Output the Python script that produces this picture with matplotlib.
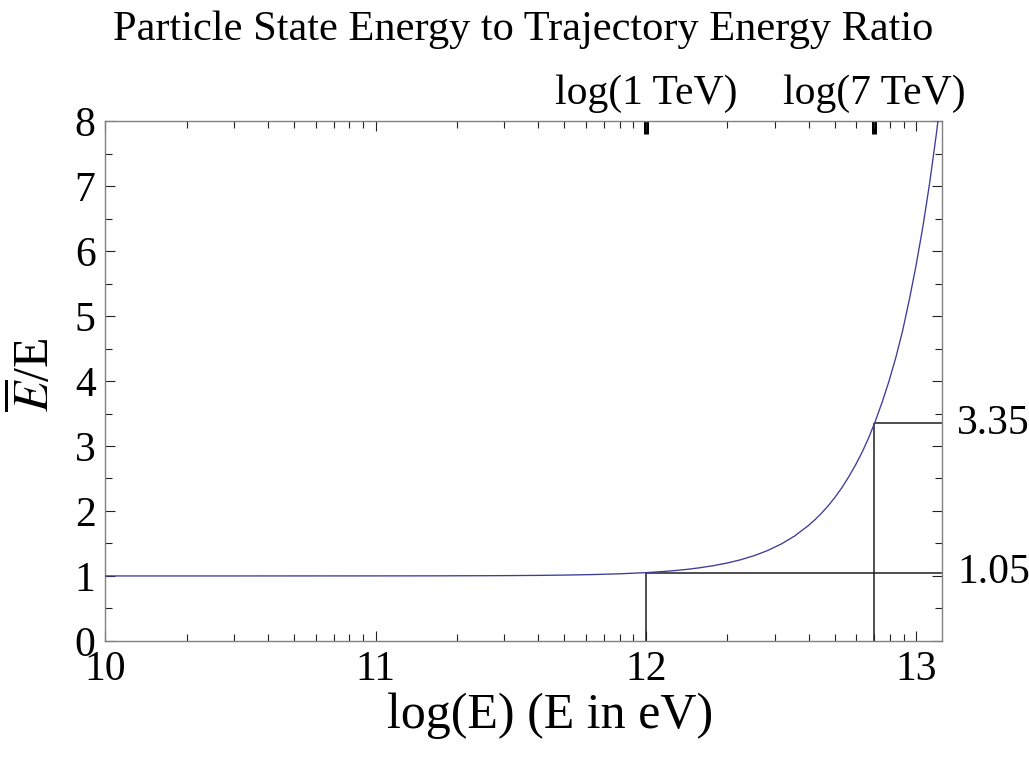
import numpy as np
import matplotlib
matplotlib.use('Agg')
import matplotlib.pyplot as plt
from matplotlib.ticker import FixedLocator, NullLocator
from matplotlib.transforms import blended_transform_factory

# ---- data ----
log_E = [10.0, 10.5, 11.0, 11.2, 11.4, 11.5, 11.6, 11.7, 11.8, 11.9,
         12.0, 12.05, 12.1, 12.15, 12.2, 12.25, 12.3, 12.35, 12.4, 12.45,
         12.5, 12.55, 12.6, 12.625, 12.65, 12.675, 12.7, 12.725, 12.75,
         12.775, 12.8, 12.825, 12.85, 12.875, 12.9, 12.925, 12.95, 12.975,
         13.0, 13.025, 13.05, 13.075, 13.1]
ratio = [1.0, 1.0, 1.0005, 1.0014, 1.0034, 1.0053, 1.0084, 1.0132, 1.0207, 1.0325,
         1.051, 1.064, 1.08, 1.10, 1.126, 1.158, 1.198, 1.248, 1.311, 1.39,
         1.489, 1.613, 1.77, 1.862, 1.965, 2.08, 2.21, 2.355, 2.52,
         2.70, 2.90, 3.13, 3.39, 3.68, 4.00, 4.36, 4.77, 5.25,
         5.78, 6.37, 7.04, 7.80, 8.65]

ref_log_E = [12.0, 12.845]
ref_ratio = [1.05, 3.35]
ref_ratio_labels = ['1.05', '3.35']
top_labels = ['log(1 TeV)', 'log(7 TeV)']
x_ticks = [10, 11, 12, 13]
x_tick_labels = ['10', '11', '12', '13']
y_ticks = [0, 1, 2, 3, 4, 5, 6, 7, 8]
x_range = [10.0, 13.096]
y_range = [0, 8]

plt.rcParams['font.family'] = ['Liberation Serif', 'DejaVu Serif']
plt.rcParams['mathtext.fontset'] = 'stix'

W, H = 1029, 764
fig = plt.figure(figsize=(W / 100, H / 100), dpi=100)
left, right, bottom, top = 105.3, 942.0, 640.9, 121.2
ax = fig.add_axes([left / W, 1 - bottom / H, (right - left) / W, (bottom - top) / H])

ax.plot(log_E, ratio, color='#3c3c9a', lw=0.95, zorder=3)
ax.set_xlim(*x_range)
ax.set_ylim(*y_range)

line_col = '#1e1e1e'
for xv, yv in zip(ref_log_E, ref_ratio):
    ax.vlines(xv, y_range[0], yv, color=line_col, lw=1.1, zorder=2)
    ax.hlines(yv, xv, x_range[1], color=line_col, lw=1.1, zorder=2)

# ticks
minor_x = [n + np.log10(k) for n in range(10, 14) for k in range(2, 10)
           if n + np.log10(k) < x_range[1]]
ax.set_xticks(x_ticks, labels=x_tick_labels)
ax.xaxis.set_minor_locator(FixedLocator(minor_x))
ax.set_yticks(y_ticks)
ax.yaxis.set_minor_locator(FixedLocator([v + 0.5 for v in y_ticks[:-1]]))

for s in ax.spines.values():
    s.set_color('#808080')
    s.set_linewidth(1.0)

ax.tick_params(which='both', direction='in', top=True, right=True,
               color='#222222', width=0.8, labelsize=30, pad=7)
ax.tick_params(which='major', length=7.5)
ax.tick_params(which='minor', length=4.8)

# top special ticks
secax = ax.secondary_xaxis('top')
secax.set_xticks(ref_log_E, labels=top_labels)
secax.xaxis.set_minor_locator(NullLocator())
secax.tick_params(direction='in', length=9.4, width=3.6, color='black',
                  labelsize=30, pad=6)
secax.spines['top'].set_visible(False)

# right side labels
trans = blended_transform_factory(ax.transAxes, ax.transData)
for yv, lab in zip(ref_ratio, ref_ratio_labels):
    ax.text(1.018, yv, lab, transform=trans, ha='left', va='center', fontsize=30)

# labels
fig.text((left + right) / 2 / W, 1 - 30 / H,
         'Particle State Energy to Trajectory Energy Ratio',
         ha='center', va='center', fontsize=30.5)
fig.text(550 / W, 1 - 716 / H, 'log(E) (E in eV)',
         ha='center', va='center', fontsize=36)
fig.text(35 / W, 1 - 375 / H, r'$\overline{E}$/E', rotation=90,
         ha='center', va='center', fontsize=36)

fig.savefig('out.png', dpi=100)
